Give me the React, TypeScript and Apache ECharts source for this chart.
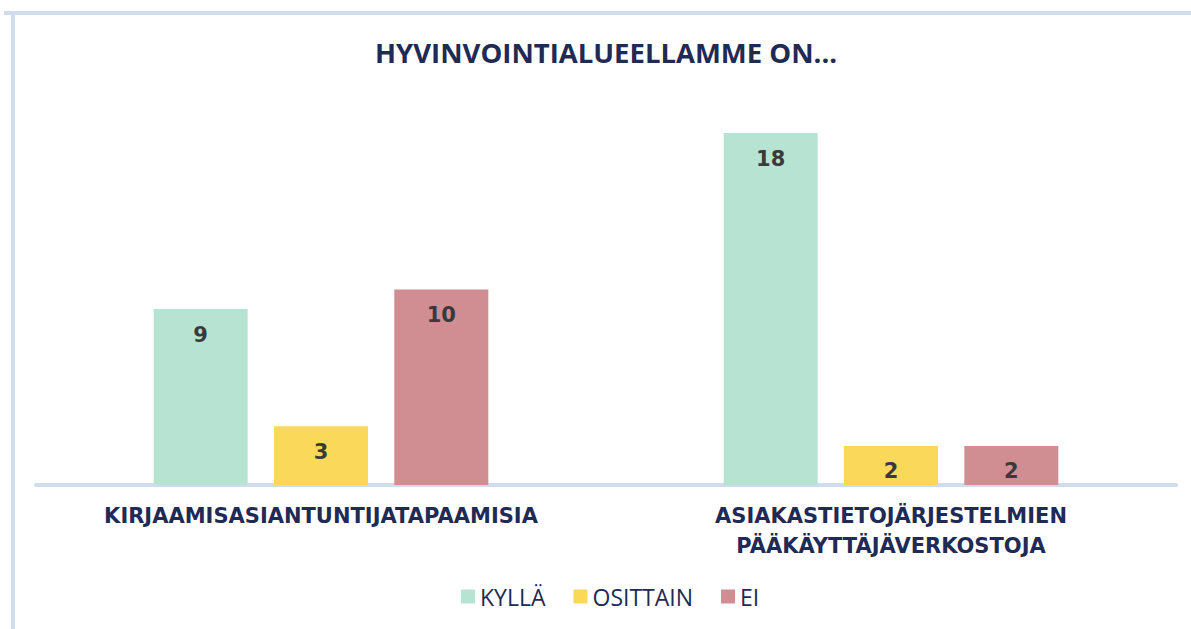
import React, { useEffect, useRef } from "react";
import * as echarts from "echarts";

const categories = ["KIRJAAMISASIANTUNTIJATAPAAMISIA", "ASIAKASTIETOJÄRJESTELMIEN\nPÄÄKÄYTTÄJÄVERKOSTOJA"];
const seriesNames = ["KYLLÄ", "OSITTAIN", "EI"];
const kyllaValues = [9, 18];
const osittainValues = [3, 2];
const eiValues = [10, 2];
const colors = ["#b7e4d2", "#fad95a", "#d08d92"];
const titleText = "HYVINVOINTIALUEELLAMME ON...";

export default function App() {
  const ref = useRef<HTMLDivElement>(null);
  useEffect(() => {
    if (!ref.current) return;
    const chart = echarts.init(ref.current, null, { renderer: "svg" });
    const data = [kyllaValues, osittainValues, eiValues];
    chart.setOption({
      animation: false,
      backgroundColor: "#ffffff",
      title: {
        text: titleText,
        left: 370,
        top: 33,
        textStyle: {
          fontFamily: "Open Sans, sans-serif",
          fontWeight: "bold",
          fontSize: 27.5,
          color: "#1f2a55",
        },
      },
      legend: {
        bottom: 16,
        left: 456,
        itemWidth: 14,
        itemHeight: 14,
        itemGap: 28,
        icon: "rect",
        textStyle: {
          fontFamily: "Open Sans, sans-serif",
          fontSize: 23,
          color: "#1f2a55",
        },
        data: seriesNames,
      },
      grid: { left: 36, right: 15, top: 94, bottom: 144 },
      xAxis: {
        type: "category",
        data: categories,
        axisLine: { lineStyle: { color: "#cedcee", width: 4 } },
        axisTick: { show: false },
        axisLabel: {
          margin: 16,
          fontFamily: "DejaVu Sans, sans-serif",
          fontWeight: "bold",
          fontSize: 21,
          lineHeight: 30,
          color: "#1f2a55",
        },
      },
      yAxis: {
        type: "value",
        min: 0,
        max: 20,
        show: false,
        splitLine: { show: false },
      },
      series: seriesNames.map((name, i) => ({
        name,
        type: "bar",
        data: data[i],
        barWidth: 94,
        barGap: "28%",
        itemStyle: { color: colors[i] },
        label: {
          show: true,
          position: "insideTop",
          distance: 15,
          fontFamily: "DejaVu Sans, sans-serif",
          fontWeight: "bold",
          fontSize: 21,
          color: "#3a3a3a",
        },
      })),
      graphic: [
        { type: "rect", shape: { x: 4, y: 11, width: 1187, height: 4 }, style: { fill: "#cfdcee" } },
        { type: "rect", shape: { x: 11, y: 11, width: 4, height: 618 }, style: { fill: "#cfdcee" } },
      ],
    });
    return () => chart.dispose();
  }, []);
  return (
    <div
      ref={ref}
      style={{ position: "fixed", left: 0, top: 0, width: 1191, height: 629 }}
    />
  );
}
